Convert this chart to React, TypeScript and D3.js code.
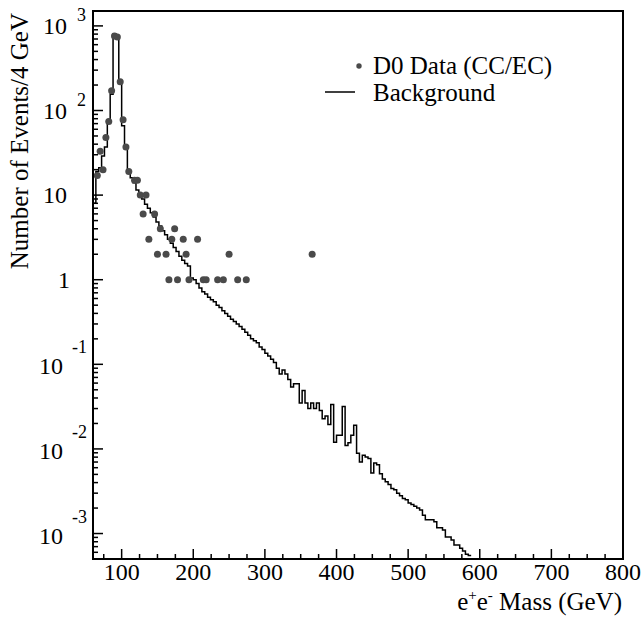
import React from 'react';
import * as d3 from 'd3';

// Background histogram: 4 GeV bins starting at 60 GeV
const binStart = 60;
const binWidth = 4;
const backgroundCounts = [
  8, 19, 21, 29, 37, 72, 156, 800, 760, 224,
  66, 37, 19.5, 16, 14, 11.5, 10, 9, 7.8, 7,
  6.2, 5.5, 4.8, 4.3, 3.8, 3.4, 3.0, 2.7, 2.4, 2.15,
  1.9, 1.7, 1.55, 1.45, 1.05, 1.0, 0.9, 0.8, 0.72, 0.68,
  0.62, 0.58, 0.55, 0.5, 0.47, 0.43, 0.4, 0.37, 0.34, 0.32,
  0.3, 0.28, 0.26, 0.24, 0.22, 0.2, 0.19, 0.18, 0.16, 0.15,
  0.135, 0.125, 0.115, 0.105, 0.09, 0.077, 0.0855, 0.077, 0.066, 0.054,
  0.059, 0.059, 0.035, 0.049, 0.035, 0.030, 0.035, 0.030, 0.035, 0.0285,
  0.0227, 0.0245, 0.0195, 0.0335, 0.012, 0.0145, 0.0145, 0.0318, 0.011, 0.0118,
  0.0145, 0.019, 0.0089, 0.007, 0.0084, 0.008, 0.0077, 0.0052, 0.0068, 0.0065,
  0.0051, 0.0044, 0.0041, 0.0038, 0.0034, 0.0033, 0.003, 0.0028, 0.0026, 0.0025,
  0.0023, 0.0022, 0.0021, 0.002, 0.0019, 0.00164, 0.00146, 0.00146, 0.00146, 0.00138,
  0.00117, 0.00117, 0.0011, 0.00091, 0.00091, 0.00084, 0.00073, 0.00073, 0.00067, 0.00062,
  0.00057, 0.00055,
];

// D0 data points (bin centres, events)
const dataMass = [66, 70, 74, 78, 82, 86, 90, 94, 98, 102, 106, 110, 118, 122, 126, 130, 134, 138, 146, 150, 154, 162, 166, 170, 174, 178, 186, 190, 194, 206, 214, 218, 234, 242, 250, 262, 274, 366];
const dataCounts = [17, 33, 20, 48, 74, 171, 760, 740, 218, 78, 37, 19, 15, 15, 10, 6, 10, 3, 6, 2, 4, 2, 1, 3, 4, 1, 3, 2, 1, 3, 1, 1, 1, 1, 2, 1, 1, 2];

const xTickValues = [100, 200, 300, 400, 500, 600, 700, 800];
const yTickExponents = [-3, -2, -1, 0, 1, 2, 3];

const legendLabels = ['D0 Data (CC/EC)', 'Background'];
const xTitle = ['e', '+', 'e', '-', ' Mass (GeV)'];
const yTitle = 'Number of Events/4 GeV';

const FONT = '"Liberation Serif", "Times New Roman", Times, serif';

export default function App() {
  const W = 642, H = 618;
  const L = 93, R = 623, T = 11, B = 559;
  const x = d3.scaleLinear().domain([60, 800]).range([L, R]);
  const yMin = 5e-4, yMax = 1500;
  const y = d3.scaleLog().domain([yMin, yMax]).range([B, T]);

  let hist = `M${x(binStart)},${B}`;
  backgroundCounts.forEach((v, i) => {
    const x1 = x(binStart + binWidth * (i + 1));
    const yy = y(Math.max(v, yMin));
    hist += `V${yy}H${x1}`;
  });

  const xMinor: number[] = [];
  for (let v = 75; v < 800; v += 25) if (v % 100 !== 0) xMinor.push(v);

  const yMinor: number[] = [];
  for (let k = -4; k <= 3; k++) {
    for (let m = 2; m <= 9; m++) {
      const v = m * Math.pow(10, k);
      if (v >= yMin && v <= yMax) yMinor.push(v);
    }
  }

  return (
    <svg width={W} height={H} style={{ position: 'absolute', left: 0, top: 0, background: '#fff' }} fontFamily={FONT}>
      <rect x={0} y={0} width={W} height={H} fill="#fff" />
      <defs>
        <clipPath id="plotclip">
          <rect x={L} y={T} width={R - L} height={B - T} />
        </clipPath>
      </defs>

      {/* histogram */}
      <path d={hist} fill="none" stroke="#000" strokeWidth={1.5} clipPath="url(#plotclip)" />

      {/* data points */}
      <g clipPath="url(#plotclip)">
        {dataMass.map((m, i) => (
          <circle key={i} cx={x(m)} cy={y(dataCounts[i])} r={3.5} fill="#4a4a4a" />
        ))}
      </g>

      {/* frame */}
      <rect x={L} y={T} width={R - L} height={B - T} fill="none" stroke="#000" strokeWidth={2} />

      {/* x ticks */}
      {xTickValues.map((v) => (
        <g key={'xt' + v}>
          <line x1={x(v)} x2={x(v)} y1={B} y2={B - 10} stroke="#000" strokeWidth={1.5} />
          <text x={x(v)} y={580} fontSize={24} textAnchor="middle">{v}</text>
        </g>
      ))}
      {xMinor.map((v) => (
        <line key={'xm' + v} x1={x(v)} x2={x(v)} y1={B} y2={B - 5} stroke="#000" strokeWidth={1.5} />
      ))}

      {/* y ticks */}
      {yTickExponents.map((k) => {
        const v = Math.pow(10, k);
        const yy = y(v);
        let label;
        if (k === 0) {
          label = <text x={70} y={yy + 8} fontSize={24} textAnchor="end">1</text>;
        } else if (k === 1) {
          label = <text x={67} y={yy + 8} fontSize={24} textAnchor="end">10</text>;
        } else if (k > 1) {
          label = (
            <g>
              <text x={67} y={yy + 8} fontSize={24} textAnchor="end">10</text>
              <text x={77} y={yy - 5} fontSize={18} textAnchor="start">{k}</text>
            </g>
          );
        } else {
          label = (
            <g>
              <text x={63} y={yy + 10} fontSize={24} textAnchor="end">10</text>
              <text x={72} y={yy - 11} fontSize={18} textAnchor="start">{k}</text>
            </g>
          );
        }
        return (
          <g key={'yt' + k}>
            <line x1={L} x2={L + 10} y1={yy} y2={yy} stroke="#000" strokeWidth={1.5} />
            {label}
          </g>
        );
      })}
      {yMinor.map((v, i) => (
        <line key={'ym' + i} x1={L} x2={L + 5} y1={y(v)} y2={y(v)} stroke="#000" strokeWidth={1.5} />
      ))}

      {/* axis titles */}
      <text transform="translate(28,13) rotate(-90)" fontSize={25} textAnchor="end">{yTitle}</text>
      <text x={622} y={610} fontSize={25} textAnchor="end">
        <tspan>{xTitle[0]}</tspan>
        <tspan dy={-10} fontSize={15}>{xTitle[1]}</tspan>
        <tspan dy={10}>{xTitle[2]}</tspan>
        <tspan dy={-10} fontSize={15}>{xTitle[3]}</tspan>
        <tspan dy={10}>{xTitle[4]}</tspan>
      </text>

      {/* legend */}
      <circle cx={359} cy={66} r={2.7} fill="#4a4a4a" />
      <text x={373} y={74} fontSize={25}>{legendLabels[0]}</text>
      <line x1={325} x2={355} y1={92} y2={92} stroke="#000" strokeWidth={1.5} />
      <text x={373} y={101} fontSize={25}>{legendLabels[1]}</text>
    </svg>
  );
}
